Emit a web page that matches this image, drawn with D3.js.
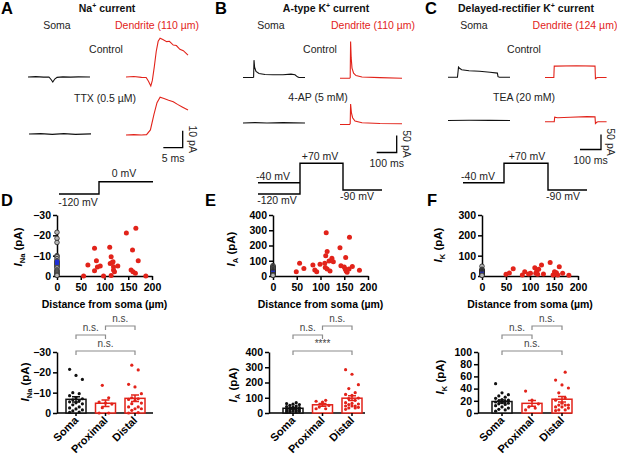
<!DOCTYPE html>
<html>
<head>
<meta charset="utf-8">
<script src="https://cdn.jsdelivr.net/npm/d3@7"></script>
<style>
  body { margin: 0; background: #fff; }
  svg { display: block; }
</style>
</head>
<body>
<script>
const FONT = "Arial, 'Liberation Sans', sans-serif";
const RED = "#e2231a", BLACK = "#111", BLUE = "#1f2fd6", GREY = "#8c8c8c";

// ---- example recordings: [time (ms), current (pA)] ----
const naSomaControl = [[0,0],[2,0.2],[4,-0.1],[5.4,0],[6.0,-1.6],[6.4,-3],[6.9,-1.2],[7.5,-0.2],[9,0.1],[11,-0.1],[13,0.1],[16,0]];
const naDendControl = [[0,0],[2,0.3],[4,-0.2],[5.2,-0.3],[5.8,-2.5],[6.4,-5.3],[6.8,-2],[7.3,6],[7.8,15],[8.3,21],[8.8,22.8],[9.5,22],[10.5,20.8],[11.2,21],[12.2,18.8],[13,18.5],[13.9,16.3],[14.8,15.5],[16,12.9]];
const naSomaTTX = [[0,0],[3,0.2],[6,-0.2],[9,0.2],[12,-0.2],[16,0.1]];
const naDendTTX = [[0,0],[2,0.2],[4,0],[5.3,0.2],[6.3,3],[7.2,12],[8,19],[8.8,22.2],[9.8,21.5],[11,20.5],[12.2,19.6],[13.3,18],[14.5,16.5],[16,14.7]];

const kaSomaControl = [[0,0],[50,0],[53,1],[55,51],[58,30],[65,18],[80,12],[110,9],[150,8],[200,8],[240,10],[260,8],[272,2],[280,0],[310,0]];
const kaDendControl = [[0,0],[48,0],[51,2],[53,108],[56,60],[60,30],[68,15],[80,8],[110,4],[200,2],[310,0]];
const kaSoma4AP = [[0,0],[60,1],[120,0],[200,1],[310,0]];
const kaDend4AP = [[0,0],[48,0],[51,3],[53,60],[57,35],[63,20],[75,10],[110,5],[200,3],[310,2]];

const kdrSomaControl = [[0,0],[45,0],[48,20],[50,34],[55,30],[65,25],[100,22],[150,20],[200,17],[235,14],[238,2],[245,0],[295,0]];
const kdrDendControl = [[0,0],[42,0],[44,38],[50,38],[150,39],[238,38],[240,-4],[246,-1],[250,0],[293,0]];
const kdrSomaTEA = [[0,0],[100,1],[200,0.5],[295,0]];
const kdrDendTEA = [[0,0],[44,0],[46,15],[60,13],[120,15],[200,17],[238,16],[240,-6],[246,-2],[252,0],[293,0]];

// ---- voltage protocols: [step time, mV] ----
const protoA = [[0,-120],[40,-120],[40,0],[94,0]];
const protoBPre = [[0,-40],[42,-40]];
const protoB = [[0,-120],[42,-120],[42,70],[85,70],[85,-90],[124,-90]];
const protoC = [[0,-40],[41,-40],[41,70],[85,70],[85,-90],[124,-90]];

// ---- peak currents: soma values (pA) and dendrite [distance (µm), pA] ----
const naSoma = [-21.5,-18.5,-16.5,-10,-9.5,-8.5,-7.5,-7,-6.5,-6,-5.5,-5,-4.5,-4,-3,-2.5,-2,-1.5,-1,-0.5,-0.3];
const naDendrite = [[56,0],[65,-5.4],[79,-13.6],[79,-2.6],[83,-7.5],[85,-4.4],[91,-4.9],[98,0],[111,-14.1],[112,-6.2],[114,-9.5],[114,-0.2],[116,-6.7],[118,-7],[119,-4.6],[119,-3],[121,-2.1],[128,-4.9],[146,-21.2],[159,-12.8],[156,-3],[160,-2.1],[165,-1.3],[166,-23.5],[171,-7.5],[187,0]];
const kaSoma = [68,62,58,55,50,46,42,38,35,32,30,28,25,22,20,18,15,12,10,8,6,4];
const kaDendrite = [[49,28],[56,83],[65,50],[84,72],[88,39],[92,28],[99,77],[109,83],[110,55],[111,133],[112,284],[114,160],[114,46],[118,98],[120,33],[124,116],[127,94],[141,186],[143,68],[150,59],[152,46],[153,122],[154,33],[156,24],[160,46],[161,254],[167,63],[182,37]];
const kdrSoma = [48,33,30,28,26,24,22,21,20,19,18,17,16,15,14,12,10,8,6,5,3];
const kdrDendrite = [[50,8],[57,15],[65,36],[84,5],[89,21],[97,10],[101,13],[110,41],[112,13],[114,25],[116,8],[118,33],[124,54],[128,10],[142,67],[148,5],[151,21],[153,10],[155,16],[158,5],[161,46],[168,13],[181,4]];

const groups = ["Soma", "Proximal", "Distal"];
const proximalLimit = 100;
const distTicks = [0, 50, 100, 150, 200];
const naTicks = [0, -10, -20, -30];
const kaTicks = [0, 100, 200, 300, 400];
const kdrScatterTicks = [0, 100, 200, 300];
const kdrBarTicks = [0, 20, 40, 60, 80, 100];

const svg = d3.select("body").append("svg")
  .attr("width", 617).attr("height", 457)
  .attr("font-family", FONT);

function txt(x, y, s, o = {}) {
  return svg.append("text").attr("x", x).attr("y", y)
    .attr("font-size", o.size || 10.5)
    .attr("font-weight", o.bold ? "bold" : null)
    .attr("fill", o.color || "#222")
    .attr("text-anchor", o.anchor || "middle")
    .text(s);
}

function title(x, y, pre, post) {
  const t = svg.append("text").attr("x", x).attr("y", y).attr("text-anchor", "middle")
    .attr("font-size", 10.5).attr("font-weight", "bold").attr("fill", "#111");
  t.append("tspan").text(pre);
  t.append("tspan").attr("font-size", 7).attr("dy", -4).text("+");
  t.append("tspan").attr("dy", 4).text(post);
}

// ---------- panel letters & headers ----------
[["A",1,14],["B",215,14],["C",425,14],["D",1,206],["E",205,206],["F",427,206]].forEach(d => {
  txt(d[1], d[2], d[0], {size: 16.5, bold: true, anchor: "start", color: "#000"});
});
title(107, 12, "Na", " current");
title(326, 12, "A-type K", " current");
title(526, 12, "Delayed-rectifier K", " current");

txt(57, 29, "Soma"); txt(157, 29, "Dendrite (110 µm)", {color: RED});
txt(271, 29, "Soma"); txt(373, 29, "Dendrite (110 µm)", {color: RED});
txt(474, 29, "Soma"); txt(575, 29, "Dendrite (124 µm)", {color: RED});
txt(106, 53, "Control"); txt(320, 53, "Control"); txt(524, 53, "Control");
txt(105, 102, "TTX (0.5 µM)"); txt(318, 101, "4-AP (5 mM)"); txt(524, 101, "TEA (20 mM)");

// ---------- traces ----------
function tracePanel(cfg) {
  const tx = d3.scaleLinear().domain([0, cfg.tMax]).range([0, 62]);
  const cy = d3.scaleLinear().domain([0, cfg.pa]).range([0, -cfg.paPx]);
  const line = d3.line().x(d => tx(d[0])).y(d => cy(d[1]));
  cfg.traces.forEach(tr => {
    svg.append("path").datum(tr.data)
      .attr("transform", `translate(${tr.x},${tr.y})`)
      .attr("d", line).attr("fill", "none")
      .attr("stroke", tr.color).attr("stroke-width", 1.1);
  });
  // scale bar
  const sb = svg.append("g").attr("transform", `translate(${cfg.bar[0]},${cfg.bar[1]})`);
  sb.append("path")
    .attr("d", `M${-tx(cfg.barT)},0H0V${cy(cfg.pa)}`)
    .attr("fill", "none").attr("stroke", "#000").attr("stroke-width", 1.3);
  sb.append("text").attr("x", -tx(cfg.barT) / 2).attr("y", 14).attr("text-anchor", "middle")
    .attr("font-size", 10.5).attr("fill", "#222").text(cfg.tLabel);
  sb.append("text").attr("transform", `translate(6,${cy(cfg.pa) / 2}) rotate(90)`)
    .attr("text-anchor", "middle").attr("font-size", 10.5).attr("fill", "#222").text(cfg.paLabel);
}

tracePanel({tMax: 16, pa: 10, paPx: 17, barT: 5, tLabel: "5 ms", paLabel: "10 pA", bar: [182.7, 147.7],
  traces: [
    {data: naSomaControl, x: 28, y: 77, color: BLACK},
    {data: naDendControl, x: 126, y: 77, color: RED},
    {data: naSomaTTX, x: 29, y: 134, color: BLACK},
    {data: naDendTTX, x: 126, y: 135, color: RED}
  ]});
tracePanel({tMax: 310, pa: 50, paPx: 17, barT: 100, tLabel: "100 ms", paLabel: "50 pA", bar: [396.7, 152.5],
  traces: [
    {data: kaSomaControl, x: 243, y: 77.5, color: BLACK},
    {data: kaDendControl, x: 340, y: 78.3, color: RED},
    {data: kaSoma4AP, x: 243, y: 123, color: BLACK},
    {data: kaDend4AP, x: 340, y: 124.5, color: RED}
  ]});
tracePanel({tMax: 295, pa: 50, paPx: 15, barT: 100, tLabel: "100 ms", paLabel: "50 pA", bar: [601, 149.5],
  traces: [
    {data: kdrSomaControl, x: 448, y: 77.3, color: BLACK},
    {data: kdrDendControl, x: 545, y: 77.5, color: RED},
    {data: kdrSomaTEA, x: 448, y: 120.5, color: BLACK},
    {data: kdrDendTEA, x: 545, y: 121.7, color: RED}
  ]});

// ---------- voltage protocols ----------
function proto(paths, xs, ys) {
  const line = d3.line().x(d => xs(d[0])).y(d => ys(d[1]));
  paths.forEach(p => svg.append("path").datum(p).attr("d", line)
    .attr("fill", "none").attr("stroke", "#000").attr("stroke-width", 1.4));
}
proto([protoA], d3.scaleLinear().domain([0, 94]).range([59, 153]),
  d3.scaleLinear().domain([-120, 0]).range([194, 181.7]));
const vK = d3.scaleLinear().domain([-120, -90, -40, 70]).range([194, 190, 182.7, 163.3]);
proto([protoBPre, protoB], d3.scaleLinear().domain([0, 124]).range([258, 382]), vK);
proto([protoC], d3.scaleLinear().domain([0, 124]).range([463, 587]), vK);

txt(124, 177, "0 mV"); txt(78, 206, "-120 mV");
txt(273, 180, "-40 mV"); txt(320, 160, "+70 mV"); txt(357, 200, "-90 mV"); txt(277, 204, "-120 mV");
txt(478, 180, "-40 mV"); txt(527, 160, "+70 mV"); txt(563, 200, "-90 mV");

// ---------- helpers for plots ----------
function styleAxis(g) {
  g.attr("font-family", FONT).attr("font-size", 10.5);
  g.select(".domain").attr("stroke", "#000").attr("stroke-width", 1.5);
  g.selectAll(".tick line").attr("stroke", "#000").attr("stroke-width", 1.5);
  g.selectAll(".tick text").attr("font-weight", "bold").attr("fill", "#000");
}

function yLabel(x, y, sub) {
  const t = svg.append("text").attr("transform", `translate(${x},${y}) rotate(-90)`)
    .attr("text-anchor", "middle").attr("font-size", 11.5).attr("font-weight", "bold").attr("fill", "#000");
  t.append("tspan").attr("font-style", "italic").text("I");
  t.append("tspan").attr("font-size", 7.5).attr("dy", 3).text(sub);
  t.append("tspan").attr("dy", -3).text(" (pA)");
}

const sem = a => d3.deviation(a) / Math.sqrt(a.length);

// ---------- distance scatter ----------
function scatterPanel(c) {
  const x = d3.scaleLinear().domain([0, 200]).range([c.x0, c.x1]);
  const y = d3.scaleLinear().domain(c.yDomain).range([276, 215]);
  const m = d3.mean(c.soma), s = sem(c.soma);

  svg.append("g").attr("transform", "translate(0,276)")
    .call(d3.axisBottom(x).tickValues(distTicks).tickSize(4).tickPadding(4).tickSizeOuter(0))
    .call(styleAxis);
  svg.append("g").attr("transform", `translate(${c.x0},0)`)
    .call(d3.axisLeft(y).tickValues(c.ticks).tickSize(4).tickPadding(2).tickSizeOuter(0))
    .call(styleAxis);

  svg.append("g").selectAll("circle").data(c.soma).join("circle")
    .attr("cx", x(0)).attr("cy", d => y(d)).attr("r", 2.3)
    .attr("fill", "#b5b5b5").attr("stroke", "#222").attr("stroke-width", 0.8);
  svg.append("rect").attr("x", x(0) - 2).attr("width", 4)
    .attr("y", Math.min(y(m - s), y(m + s))).attr("height", Math.abs(y(m - s) - y(m + s)))
    .attr("fill", BLUE);

  svg.append("g").selectAll("circle").data(c.dend).join("circle")
    .attr("cx", d => x(d[0])).attr("cy", d => y(d[1])).attr("r", 2.5)
    .attr("fill", RED);

  yLabel(c.labelX, c.labelY, c.sub);
  txt((c.x0 + c.x1) / 2, 308, "Distance from soma (µm)", {size: 10.5, bold: true, color: "#000"});
}

scatterPanel({x0: 57, x1: 152, yDomain: [0, -30], ticks: naTicks, soma: naSoma, dend: naDendrite, sub: "Na", labelX: 22, labelY: 247});
scatterPanel({x0: 273, x1: 368, yDomain: [0, 400], ticks: kaTicks, soma: kaSoma, dend: kaDendrite, sub: "A", labelX: 235, labelY: 249});
scatterPanel({x0: 482, x1: 578, yDomain: [0, 300], ticks: kdrScatterTicks, soma: kdrSoma, dend: kdrDendrite, sub: "K", labelX: 442, labelY: 245});

// ---------- bar graphs ----------
function barPanel(c) {
  const x = d3.scalePoint().domain(groups).range(c.centers);
  const y = d3.scaleLinear().domain(c.yDomain).range([413, 352]);
  const data = [
    {g: "Soma", v: c.soma, color: BLACK},
    {g: "Proximal", v: c.dend.filter(d => d[0] < proximalLimit).map(d => d[1]), color: RED},
    {g: "Distal", v: c.dend.filter(d => d[0] >= proximalLimit).map(d => d[1]), color: RED}
  ];

  svg.append("path").attr("d", `M${c.axisX},413H${c.xEnd}`).attr("stroke", "#000").attr("stroke-width", 1.5);
  svg.append("g").attr("transform", `translate(${c.axisX},0)`)
    .call(d3.axisLeft(y).tickValues(c.ticks).tickSize(4).tickPadding(2).tickSizeOuter(0))
    .call(styleAxis);

  data.forEach(d => {
    const cx = x(d.g), m = d3.mean(d.v), s = sem(d.v);
    svg.append("rect").attr("x", cx - 10).attr("width", 20)
      .attr("y", Math.min(y(m), 413)).attr("height", Math.abs(413 - y(m)))
      .attr("fill", "#fff").attr("stroke", d.color).attr("stroke-width", 1.5);
    const sorted = d.v.slice().sort((a, b) => Math.abs(a) - Math.abs(b));
    svg.append("g").selectAll("circle").data(sorted).join("circle")
      .attr("cx", (v, i) => cx + ((i * 3) % 5 - 2) * 3.2)
      .attr("cy", v => y(v)).attr("r", 1.6).attr("fill", d.color);
    const lo = y(m - s), hi = y(m + s);
    svg.append("path")
      .attr("d", `M${cx},${lo}V${hi}M${cx - 4},${lo}H${cx + 4}M${cx - 4},${hi}H${cx + 4}`)
      .attr("stroke", d.color).attr("stroke-width", 1.5).attr("fill", "none");
    svg.append("path").attr("d", `M${cx},413v3`).attr("stroke", "#000").attr("stroke-width", 1.5);
    svg.append("text").attr("transform", `translate(${cx + 3},421) rotate(-45)`)
      .attr("text-anchor", "end").attr("font-size", 11).attr("font-weight", "bold").attr("fill", "#000")
      .text(d.g);
  });

  // significance brackets
  c.sig.forEach(b => {
    const a = x(b[0]), e = x(b[1]);
    svg.append("path").attr("d", `M${a},${b[2] + 4}V${b[2]}H${e}V${b[2] + 4}`)
      .attr("fill", "none").attr("stroke", GREY).attr("stroke-width", 1.2);
    txt((a + e) / 2, b[2] - 4, b[3], {size: 10, color: "#444"});
  });

  yLabel(c.labelX, c.labelY, c.sub);
}

barPanel({axisX: 57, centers: [76, 135], xEnd: 153, yDomain: [0, -30], ticks: naTicks, soma: naSoma, dend: naDendrite, sub: "Na", labelX: 29, labelY: 382,
  sig: [["Soma", "Proximal", 335, "n.s."], ["Proximal", "Distal", 326, "n.s."], ["Soma", "Distal", 351, "n.s."]]});
barPanel({axisX: 269, centers: [293, 352], xEnd: 365, yDomain: [0, 400], ticks: kaTicks, soma: kaSoma, dend: kaDendrite, sub: "A", labelX: 237, labelY: 385,
  sig: [["Soma", "Proximal", 335, "n.s."], ["Proximal", "Distal", 326, "n.s."], ["Soma", "Distal", 351, "****"]]});
barPanel({axisX: 478, centers: [502, 562], xEnd: 572, yDomain: [0, 100], ticks: kdrBarTicks, soma: kdrSoma, dend: kdrDendrite, sub: "K", labelX: 444, labelY: 377,
  sig: [["Soma", "Proximal", 335, "n.s."], ["Proximal", "Distal", 326, "n.s."], ["Soma", "Distal", 351, "n.s."]]});
</script>
</body>
</html>
